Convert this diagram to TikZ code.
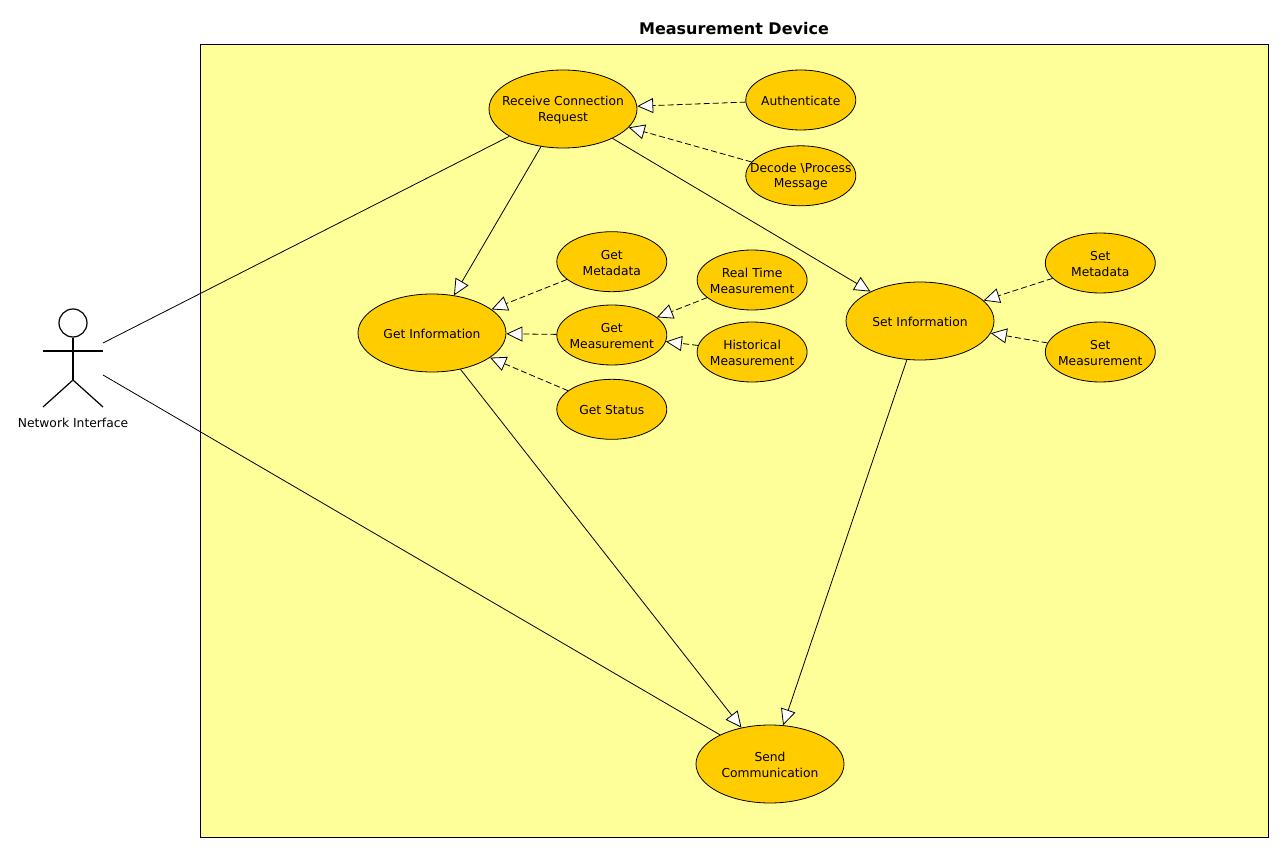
\documentclass[tikz,border=0pt]{standalone}
\usepackage{fontspec}
\setmainfont{DejaVu Sans}
\usepackage{tikz}
\usetikzlibrary{arrows.meta,positioning,shapes.geometric}
\definecolor{sysyellow}{HTML}{FFFF99}
\definecolor{ucorange}{HTML}{FFCC00}

\begin{document}
\begin{tikzpicture}[x=1pt,y=-1pt,font=\fontsize{12.3}{15.5}\selectfont,line width=0.8pt,
  >={Triangle[length=16pt,width=15pt,fill=white]},
  uc/.style={draw,ellipse,inner ysep=0pt,inner xsep=-40pt,text height=26.8pt,fill=ucorange,align=center,minimum width=110pt,minimum height=60pt},
  ucb/.style={uc,minimum width=148pt,minimum height=78pt},
  one/.style={text height=11.5pt},
  inc/.style={->,dash pattern=on 6pt off 3pt},
  lnk/.style={->},
  stick/.style={line width=1.2pt}]
\useasboundingbox (0,0) rectangle (1283,853);
\node[draw,fill=sysyellow,inner sep=0pt,minimum width=1068pt,minimum height=793pt](dev) at (734,440.5){};
\node[above=5pt of dev,font=\fontsize{16}{18}\selectfont\bfseries](title){Measurement Device};
% actor
\node[stick,draw,circle,inner sep=0pt,minimum size=28pt](head) at (73,323){};
\coordinate(hip) at (73,380);
\coordinate(hand1) at (43,351);
\coordinate(hand2) at (103,351);
\coordinate(foot1) at (43,407);
\coordinate(foot2) at (103,407);
\draw[stick](head.south)--(hip);
\draw[stick](hand1)--(hand2);
\draw[stick](foot1)--(hip)--(foot2);
\node[below=34pt of hip](actor){Network Interface};
\coordinate(act1) at (103,343);
\coordinate(act2) at (103,375);
% use cases
\node[ucb](recv) at (563,109){Receive Connection\\Request};
\node[uc,one,right=108pt of recv,yshift=9pt](auth){Authenticate};
\node[uc,below=15pt of auth](deco){Decode \textbackslash Process\\Message};
\node[ucb,one](geti) at (432,333){Get Information};
\node[uc,right=50pt of geti,yshift=-2pt](getm){Get\\Measurement};
\node[uc,above=12.5pt of getm](getd){Get\\Metadata};
\node[uc,one,below=13.5pt of getm](gets){Get Status};
\node[uc,right=29.5pt of getm,yshift=55pt](real){Real Time\\Measurement};
\node[uc,right=29.5pt of getm,yshift=-17pt](hist){Historical\\Measurement};
\node[ucb,one](seti) at (920,321){Set Information};
\node[uc,right=50.5pt of seti,yshift=58pt](setd){Set\\Metadata};
\node[uc,right=50.5pt of seti,yshift=-31pt](setm){Set\\Measurement};
\node[ucb](send) at (770,764){Send\\Communication};
% connectors
\draw(act1)--(recv);
\draw(act2)--(send);
\foreach \x/\y in {recv/geti,recv/seti,geti/send,seti/send} \draw[lnk](\x)--(\y);
\foreach \x/\y in {auth/recv,deco/recv,getd/geti,getm/geti,gets/geti,real/getm,hist/getm,setd/seti,setm/seti} \draw[inc](\x)--(\y);
\end{tikzpicture}
\end{document}
